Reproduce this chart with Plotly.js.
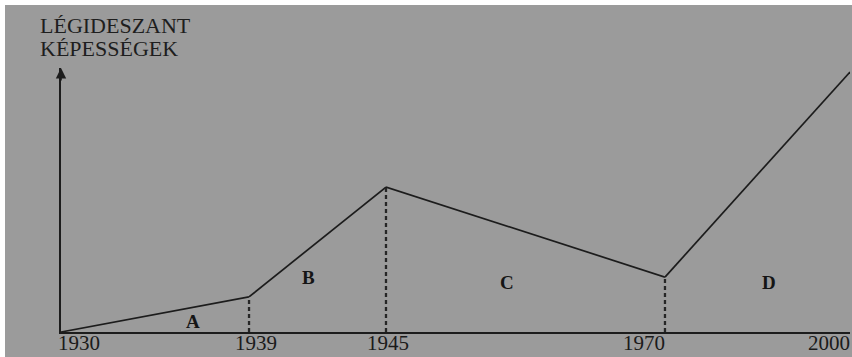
<!DOCTYPE html>
<html>
<head>
<meta charset="utf-8">
<script src="https://cdn.plot.ly/plotly-3.0.1.min.js"></script>
<style>
  html, body { margin: 0; padding: 0; background: #ffffff; }
  #chart { position: absolute; left: 5px; top: 5px; width: 847px; height: 352px; }
</style>
</head>
<body>
<div id="chart"></div>
<script>
// ---------------- data ----------------
const years = [1930, 1939, 1945, 1970, 2000];
const yearLabels = ['1930', '1939', '1945', '1970', '2000'];
const capability = [0, 13.3, 54.9, 20.8, 98.5];   // relative airborne capability (0-100)
const periods = ['A', 'B', 'C', 'D'];
const titleLines = ['LÉGIDESZANT', 'KÉPESSÉGEK'];

// ---------------- style / layout ----------------
const bg = '#9b9b9b';
const ink = '#1c1c1c';
const serif = 'Liberation Serif, Times New Roman, serif';
const axisStops = [0, 0.2383, 0.4119, 0.7655, 1];      // schematic (non-proportional) time axis
const tickShift = [18, 7, 2, -21];
const labelSpot = [[1936.3, 3.8], [1941.6, 20.8], [1955.8, 18.9], [1986.9, 18.6]];

function ax(i) { return i === 0 ? '' : String(i + 1); }

const traces = [];
for (let i = 0; i < periods.length; i++) {
  traces.push({
    type: 'scatter', mode: 'lines',
    x: [years[i], years[i + 1]],
    y: [capability[i], capability[i + 1]],
    xaxis: 'x' + ax(i), yaxis: 'y',
    line: { color: ink, width: 1.7 },
    hoverinfo: 'skip', showlegend: false
  });
}
// dashed drop lines at the period boundaries (drawn on both neighbouring axes)
for (let i = 1; i < years.length - 1; i++) {
  [i - 1, i].forEach(function (k) {
    traces.push({
      type: 'scatter', mode: 'lines',
      x: [years[i], years[i]],
      y: [0, capability[i]],
      xaxis: 'x' + ax(k), yaxis: 'y',
      line: { color: '#262626', width: 2.3, dash: '4px,3px' },
      hoverinfo: 'skip', showlegend: false
    });
  });
}

const layout = {
  width: 847, height: 352,
  margin: { l: 56, r: 2, t: 63, b: 25, pad: 0 },
  paper_bgcolor: bg, plot_bgcolor: bg,
  showlegend: false,
  font: { family: serif, color: ink },
  yaxis: {
    range: [0, 100], domain: [0, 1], anchor: 'x',
    showline: true, linecolor: ink, linewidth: 1.6,
    showgrid: false, zeroline: false, ticks: '', showticklabels: false, fixedrange: true
  },
  annotations: []
};

for (let i = 0; i < periods.length; i++) {
  const last = i === periods.length - 1;
  const tv = last ? [years[i], years[i + 1]] : [years[i]];
  const tt = last ? [yearLabels[i], yearLabels[i + 1]] : [yearLabels[i]];
  layout['xaxis' + ax(i)] = {
    domain: [axisStops[i], axisStops[i + 1]],
    range: [years[i], years[i + 1]],
    anchor: 'y',
    showline: true, linecolor: ink, linewidth: 1.6,
    showgrid: false, zeroline: false, ticks: '',
    tickmode: 'array', tickvals: tv, ticktext: tt,
    tickfont: { family: serif, size: 21, color: '#1a1a1a' },
    ticklabelshift: tickShift[i],
    ticklabelstandoff: -9,
    ticklabeloverflow: 'allow',
    fixedrange: true
  };
  layout.annotations.push({
    xref: 'x' + ax(i), yref: 'y',
    x: labelSpot[i][0], y: labelSpot[i][1],
    text: '<b>' + periods[i] + '</b>',
    showarrow: false, xanchor: 'center', yanchor: 'middle',
    font: { family: serif, size: 19, color: '#151515' }
  });
}

// y-axis title (two lines, tight spacing)
const titleShift = [43, 20];
titleLines.forEach(function (t, k) {
  layout.annotations.push({
    xref: 'paper', yref: 'paper', x: 0, y: 1,
    xanchor: 'left', yanchor: 'middle',
    xshift: -23, yshift: titleShift[k],
    text: t, showarrow: false, align: 'left',
    font: { family: serif, size: 22, color: '#1e1e1e' }
  });
});

// arrow head on the y axis
layout.annotations.push({
  xref: 'paper', yref: 'paper', x: 0, y: 1,
  ax: 0, ay: 14, axref: 'pixel', ayref: 'pixel',
  text: '', showarrow: true, arrowhead: 2, arrowsize: 1.3,
  arrowwidth: 1.6, arrowcolor: ink, standoff: 0
});

Plotly.newPlot('chart', traces, layout, { displayModeBar: false, staticPlot: true });
</script>
</body>
</html>
